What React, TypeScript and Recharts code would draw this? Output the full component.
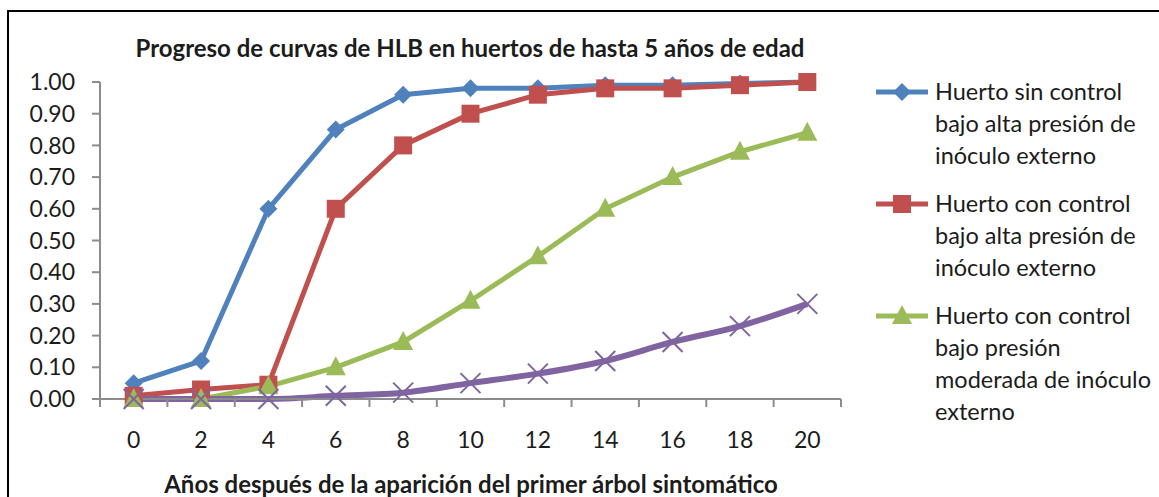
import { LineChart, Line, XAxis, YAxis } from 'recharts';

// años después de la aparición del primer árbol sintomático
const years = [0, 2, 4, 6, 8, 10, 12, 14, 16, 18, 20];

// proporción de árboles con HLB
const sinControlAlta = [0.05, 0.12, 0.6, 0.85, 0.96, 0.98, 0.98, 0.99, 0.99, 0.995, 1.0];
const conControlAlta = [0.01, 0.03, 0.045, 0.6, 0.8, 0.9, 0.96, 0.98, 0.98, 0.99, 1.0];
const conControlModerada = [0, 0, 0.04, 0.1, 0.18, 0.31, 0.45, 0.6, 0.7, 0.78, 0.84];
const cuartaCurva = [0, 0, 0, 0.01, 0.02, 0.05, 0.08, 0.12, 0.18, 0.23, 0.3];

const yTicks = [0, 0.1, 0.2, 0.3, 0.4, 0.5, 0.6, 0.7, 0.8, 0.9, 1.0];
// pares = etiquetas, impares = marcas entre categorías
const xTicks = [-1, 0, 1, 2, 3, 4, 5, 6, 7, 8, 9, 10, 11, 12, 13, 14, 15, 16, 17, 18, 19, 20, 21];

const title = 'Progreso de curvas de HLB en huertos de hasta 5 años de edad';
const xTitle = 'Años después de la aparición del primer árbol sintomático';

const FONT = 'Lato, "Open Sans", sans-serif';
const TEXT = '#1c1c1c';
const AXIS = '#8c8c8c';

const data = years.map((year, i) => ({
  year,
  a: sinControlAlta[i],
  b: conControlAlta[i],
  c: conControlModerada[i],
  d: cuartaCurva[i],
}));

type Shape = 'diamond' | 'square' | 'triangle' | 'cross';

const drawMarker = (shape: Shape, cx: number, cy: number, color: string, key?: any) => {
  if (shape === 'diamond') {
    const r = 9;
    return <polygon key={key} points={`${cx},${cy - r} ${cx + r},${cy} ${cx},${cy + r} ${cx - r},${cy}`} fill={color} />;
  }
  if (shape === 'square') {
    const s = 9;
    return <rect key={key} x={cx - s} y={cy - s} width={s * 2} height={s * 2} fill={color} />;
  }
  if (shape === 'triangle') {
    return <polygon key={key} points={`${cx},${cy - 11} ${cx + 10},${cy + 8} ${cx - 10},${cy + 8}`} fill={color} />;
  }
  const r = 10;
  return (
    <g key={key} stroke={color} strokeWidth={2}>
      <line x1={cx - r} y1={cy - r} x2={cx + r} y2={cy + r} />
      <line x1={cx - r} y1={cy + r} x2={cx + r} y2={cy - r} />
    </g>
  );
};

const series = [
  { key: 'a', color: '#4F81BD', shape: 'diamond' as Shape, width: 5, curve: 'linear', legend: ['Huerto sin control', 'bajo alta presión de', 'inóculo externo'] },
  { key: 'b', color: '#C0504D', shape: 'square' as Shape, width: 5, curve: 'linear', legend: ['Huerto con control', 'bajo alta presión de', 'inóculo externo'] },
  { key: 'c', color: '#9BBB59', shape: 'triangle' as Shape, width: 5, curve: 'linear', legend: ['Huerto con control', 'bajo presión', 'moderada de inóculo', 'externo'] },
  { key: 'd', color: '#8064A2', shape: 'cross' as Shape, width: 6, curve: 'monotone', legend: null },
];

const XTick = (props: any) => {
  const { x, y, payload } = props;
  const v = payload.value;
  if (Math.abs(v % 2) === 1) {
    return <line x1={x} y1={y} x2={x} y2={y + 8} stroke={AXIS} strokeWidth={2} />;
  }
  return (
    <text x={x} y={y + 49} textAnchor="middle" fontSize={23} fontFamily={FONT} fill={TEXT}>
      {v}
    </text>
  );
};

export default function App() {
  return (
    <div style={{ position: 'absolute', left: 0, top: 0, width: 1159, height: 497, overflow: 'hidden', background: '#fff' }}>
      <div style={{ position: 'absolute', left: 7, top: 10, width: 1200, height: 540, border: '2px solid #000' }} />
      <div style={{ position: 'absolute', left: 0, top: 0 }}>
        <LineChart width={1159} height={497} data={data} margin={{ top: 82, right: 318, bottom: 0, left: 0 }}>
          <XAxis
            dataKey="year"
            type="number"
            domain={[-1, 21]}
            ticks={xTicks}
            interval={0}
            tickLine={false}
            tickSize={0}
            tickMargin={0}
            height={98}
            axisLine={{ stroke: AXIS, strokeWidth: 2 }}
            tick={XTick}
          />
          <YAxis
            domain={[0, 1]}
            ticks={yTicks}
            interval={0}
            width={100}
            tickSize={8}
            tickMargin={17}
            tickFormatter={(v: number) => v.toFixed(2)}
            axisLine={{ stroke: AXIS, strokeWidth: 2 }}
            tickLine={{ stroke: AXIS, strokeWidth: 2 }}
            tick={{ fontSize: 23, fontFamily: FONT, fill: TEXT }}
          />
          {series.map((s) => (
            <Line
              key={s.key}
              dataKey={s.key}
              type={s.curve as any}
              stroke={s.color}
              strokeWidth={s.width}
              isAnimationActive={false}
              activeDot={false}
              dot={(p: any) => drawMarker(s.shape, p.cx, p.cy, s.color, `${s.key}-${p.index}`)}
            />
          ))}
        </LineChart>
      </div>
      <svg width={1159} height={497} style={{ position: 'absolute', left: 0, top: 0, pointerEvents: 'none' }}>
        <text x={470} y={57} textAnchor="middle" fontSize={24} fontWeight="bold" fontFamily={FONT} fill={TEXT}>
          {title}
        </text>
        <text x={471} y={493} textAnchor="middle" fontSize={24} fontWeight="bold" fontFamily={FONT} fill={TEXT}>
          {xTitle}
        </text>
        {(() => {
          let top = 92;
          return series
            .filter((s) => s.legend)
            .map((s) => {
              const y0 = top;
              top += s.legend!.length * 32 + 16;
              return (
                <g key={s.key}>
                  <line x1={876} y1={y0} x2={928} y2={y0} stroke={s.color} strokeWidth={5} />
                  {drawMarker(s.shape, 902, y0, s.color)}
                  {s.legend!.map((ln, i) => (
                    <text key={i} x={935} y={y0 + i * 32 + 8} fontSize={23.5} fontFamily={FONT} fill={TEXT}>
                      {ln}
                    </text>
                  ))}
                </g>
              );
            });
        })()}
      </svg>
    </div>
  );
}
